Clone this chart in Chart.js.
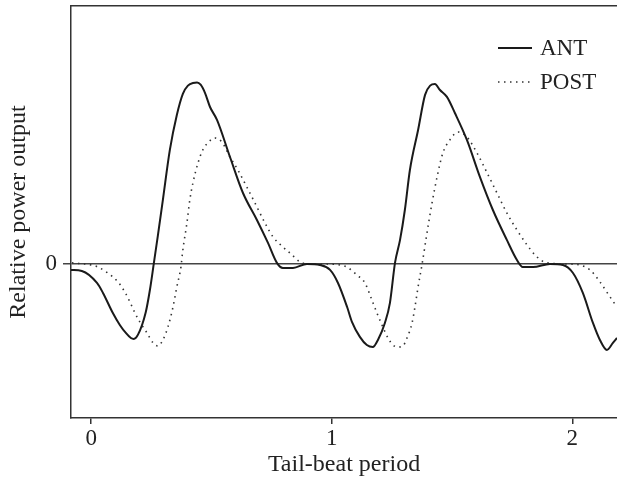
<!DOCTYPE html>
<html>
<head>
<meta charset="utf-8">
<script src="https://cdn.jsdelivr.net/npm/chart.js@4.4.1/dist/chart.umd.min.js"></script>
<style>
  html, body { margin: 0; padding: 0; background: #fff; }
  #wrap { width: 617px; height: 477px; }
</style>
</head>
<body>
<div id="wrap"><canvas id="myChart" width="617" height="477"></canvas></div>
<script>
// tick labels
const timeTicks = [0, 1, 2];
const powerTicks = [0];

// ANT (solid)
const antTime = [-0.084, -0.039, 0.024, 0.049, 0.090, 0.119, 0.144, 0.165, 0.177, 0.194, 0.227, 0.244,
    0.260, 0.277, 0.298, 0.327, 0.356, 0.381, 0.402, 0.423, 0.440, 0.455, 0.473, 0.494, 0.523, 0.577, 0.631,
    0.689, 0.735, 0.772, 0.797, 0.839, 0.897, 0.951, 0.993, 1.026, 1.064, 1.084, 1.117, 1.146, 1.171,
    1.192, 1.221, 1.242, 1.263, 1.284, 1.304, 1.325, 1.359, 1.388, 1.409, 1.429, 1.450, 1.479, 1.512,
    1.562, 1.616, 1.670, 1.728, 1.770, 1.794, 1.837, 1.907, 1.961, 2.003, 2.044, 2.086, 2.115, 2.144,
    2.169, 2.186];
const antPower = [-0.033, -0.039, -0.105, -0.160, -0.271, -0.337, -0.381, -0.409, -0.414, -0.392, -0.265, -0.144,
    0.0, 0.155, 0.354, 0.630, 0.823, 0.940, 0.985, 1.0, 1.002, 0.99, 0.945, 0.867, 0.796, 0.591, 0.392,
    0.243, 0.116, 0.006, -0.022, -0.022, 0.0, -0.006, -0.033, -0.105, -0.238, -0.320, -0.403, -0.448, -0.459,
    -0.420, -0.326, -0.215, 0.006, 0.133, 0.298, 0.519, 0.740, 0.934, 0.985, 0.994, 0.961, 0.923, 0.834,
    0.685, 0.481, 0.298, 0.133, 0.022, -0.017, -0.017, 0.0, -0.006, -0.050, -0.160, -0.326, -0.420, -0.475,
    -0.436, -0.409];

// POST (dotted)
const postTime = [-0.080, 0.003, 0.028, 0.069, 0.111, 0.140, 0.161, 0.182, 0.202, 0.232, 0.257, 0.277,
    0.298, 0.319, 0.340, 0.356, 0.373, 0.381, 0.398, 0.410, 0.423, 0.444, 0.464, 0.485, 0.514, 0.543,
    0.577, 0.610, 0.647, 0.689, 0.722, 0.756, 0.797, 0.835, 0.868, 0.910, 0.980, 1.034, 1.063, 1.105,
    1.138, 1.167, 1.188, 1.209, 1.234, 1.255, 1.276, 1.296, 1.313, 1.334, 1.346, 1.359, 1.375, 1.396,
    1.417, 1.438, 1.462, 1.491, 1.525, 1.562, 1.604, 1.646, 1.687, 1.728, 1.770, 1.812, 1.853, 1.895,
    1.978, 2.032, 2.074, 2.115, 2.157, 2.186];
const postPower = [0.006, -0.006, -0.017, -0.050, -0.099, -0.155, -0.210, -0.271, -0.320, -0.381, -0.436, -0.453,
    -0.420, -0.348, -0.238, -0.127, -0.017, 0.077, 0.227, 0.354, 0.448, 0.558, 0.630, 0.669, 0.696, 0.674,
    0.591, 0.519, 0.425, 0.315, 0.227, 0.149, 0.094, 0.050, 0.011, 0.0, 0.0, -0.006, -0.017, -0.061,
    -0.105, -0.199, -0.271, -0.337, -0.409, -0.448, -0.459, -0.453, -0.409, -0.326, -0.238, -0.127, -0.006, 0.171,
    0.337, 0.481, 0.613, 0.685, 0.729, 0.702, 0.613, 0.503, 0.392, 0.282, 0.188, 0.105, 0.039, 0.006,
    0.0, -0.006, -0.033, -0.099, -0.182, -0.238];

const serif = "'Liberation Serif', 'Times New Roman', serif";
const ink = '#222';

function toPoints(xs, ys) {
    return xs.map((x, i) => ({ x: x, y: ys[i] }));
}

// legend drawn inside the plot, top right
const insideLegend = {
    id: 'insideLegend',
    afterDraw(chart) {
        const ctx = chart.ctx;
        const area = chart.chartArea;
        const x0 = area.right - 119;
        ctx.save();
        ctx.font = '23px ' + serif;
        ctx.fillStyle = ink;
        ctx.textBaseline = 'middle';
        chart.data.datasets.forEach((ds, i) => {
            const y = area.top + 42 + i * 34;
            ctx.beginPath();
            ctx.strokeStyle = ds.borderColor;
            ctx.lineWidth = ds.borderWidth;
            ctx.setLineDash(ds.borderDash || []);
            ctx.moveTo(x0, y);
            ctx.lineTo(x0 + 34, y);
            ctx.stroke();
            ctx.setLineDash([]);
            ctx.fillText(ds.label, x0 + 42, y + 1);
        });
        ctx.restore();
    }
};

const chart = new Chart(document.getElementById('myChart'), {
    type: 'line',
    data: {
        datasets: [
            {
                label: 'ANT',
                data: toPoints(antTime, antPower),
                borderColor: '#1a1a1a',
                borderWidth: 2,
                pointRadius: 0,
                cubicInterpolationMode: 'monotone',
                fill: false
            },
            {
                label: 'POST',
                data: toPoints(postTime, postPower),
                borderColor: '#333',
                borderWidth: 1.6,
                borderDash: [1.5, 4.5],
                pointRadius: 0,
                cubicInterpolationMode: 'monotone',
                fill: false
            }
        ]
    },
    options: {
        responsive: false,
        animation: false,
        layout: { padding: 0 },
        plugins: {
            legend: { display: false },
            tooltip: { enabled: false }
        },
        scales: {
            x: {
                type: 'linear',
                position: 'bottom',
                min: -0.084,
                max: 2.186,
                afterBuildTicks: (scale) => { scale.ticks = timeTicks.map(v => ({ value: v })); },
                afterFit: (scale) => {
                    scale.height = 59;
                    scale.paddingLeft = 0;
                    scale.paddingRight = 0;
                },
                grid: { drawOnChartArea: false, color: '#333', lineWidth: 1.5, tickLength: 6 },
                border: { display: true, color: '#333', width: 1.5 },
                ticks: { color: ink, font: { family: serif, size: 23 }, padding: 1, maxRotation: 0 },
                title: {
                    display: true,
                    text: 'Tail-beat period',
                    color: ink,
                    font: { family: serif, size: 24 },
                    padding: { top: 0, bottom: -2 }
                }
            },
            xTop: {
                type: 'linear',
                position: 'top',
                min: -0.084,
                max: 2.186,
                afterFit: (scale) => {
                    scale.height = 6;
                    scale.paddingLeft = 0;
                    scale.paddingRight = 0;
                },
                grid: { display: false },
                ticks: { display: false },
                border: { display: true, color: '#333', width: 1.5 }
            },
            y: {
                type: 'linear',
                min: -0.851,
                max: 1.425,
                afterBuildTicks: (scale) => { scale.ticks = powerTicks.map(v => ({ value: v })); },
                afterFit: (scale) => {
                    scale.width = 71;
                    scale.paddingTop = 0;
                    scale.paddingBottom = 0;
                },
                grid: { color: '#444', lineWidth: 1.5, tickLength: 8 },
                border: { display: true, color: '#333', width: 1.5 },
                ticks: { color: ink, font: { family: serif, size: 23 }, padding: 6 },
                title: {
                    display: true,
                    text: 'Relative power output',
                    color: ink,
                    font: { family: serif, size: 24 },
                    padding: { top: 4, bottom: 0 }
                }
            }
        }
    },
    plugins: [insideLegend]
});
</script>
</body>
</html>
